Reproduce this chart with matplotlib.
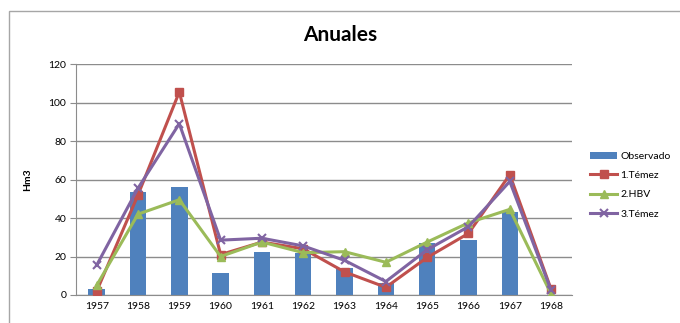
import matplotlib.pyplot as plt
import numpy as np
from matplotlib.patches import Rectangle

plt.rcParams['font.family'] = ['Lato', 'DejaVu Sans']

# Annual volumes (Hm3): observed and three model runs
years = ['1957', '1958', '1959', '1960', '1961', '1962',
         '1963', '1964', '1965', '1966', '1967', '1968']
observado = [3, 53.5, 56, 11.5, 22.5, 22, 14, 6, 27, 28.5, 43, 0]
temez1 = [2, 52, 105.5, 21, 27.5, 24, 12, 4, 19.5, 32, 62.5, 3]
hbv2 = [5, 42, 49.5, 20, 27.5, 22, 22.5, 17, 27.5, 37.5, 44.5, 0.5]
temez3 = [15.5, 55.5, 89, 28.5, 29.5, 25.5, 18, 7, 23.5, 35.5, 59, 2.5]

x = np.arange(len(years))

fig = plt.figure(figsize=(6.8, 3.23), dpi=100)
ax = fig.add_axes([0.1118, 0.0867, 0.729, 0.715])

bars = ax.bar(x, observado, width=0.4, color='#4F81BD', label='Observado', zorder=2)
l1, = ax.plot(x, temez1, color='#C0504D', lw=2.2, marker='s', ms=6,
              label='1.Témez', zorder=3)
l2, = ax.plot(x, hbv2, color='#9BBB59', lw=2.2, marker='^', ms=6,
              label='2.HBV', zorder=4)
l3, = ax.plot(x, temez3, color='#8064A2', lw=2.2, marker='x', ms=6, mew=1.5,
              label='3.Témez', zorder=5)

ax.set_xlim(-0.5, len(years) - 0.5)
ax.set_ylim(0, 120)
ax.set_yticks(range(0, 121, 20))
ax.set_xticks(x)
ax.set_xticklabels(years)
ax.yaxis.grid(True, color='#8C8C8C', lw=1, zorder=0)
ax.set_axisbelow(True)

for side in ['top', 'right']:
    ax.spines[side].set_visible(False)
ax.spines['left'].set_color('#8C8C8C')
ax.spines['bottom'].set_color('#8C8C8C')
ax.tick_params(axis='y', length=4, color='#8C8C8C', labelsize=7.5, pad=3)
ax.tick_params(axis='x', length=0, labelsize=7.5, pad=5)

ax.set_ylabel('Hm3', fontsize=7.5, fontweight='bold', labelpad=12)

fig.text(0.5, 0.892, 'Anuales', ha='center', va='center',
         fontsize=15, fontweight='bold')

fig.legend([bars, l1, l2, l3], ['Observado', '1.Témez', '2.HBV', '3.Témez'],
           loc='center left', bbox_to_anchor=(0.862, 0.427), frameon=False,
           fontsize=7.5, handlelength=2.6, handletextpad=0.3,
           labelspacing=0.95, borderaxespad=0)

# chart area border
fig.patches.append(Rectangle((8.5 / 680, -0.1), 1.2, 1 - 10.5 / 323 + 0.1,
                             transform=fig.transFigure, fill=False,
                             edgecolor='#A6A6A6', lw=1))

fig.savefig('out.png', dpi=100)
